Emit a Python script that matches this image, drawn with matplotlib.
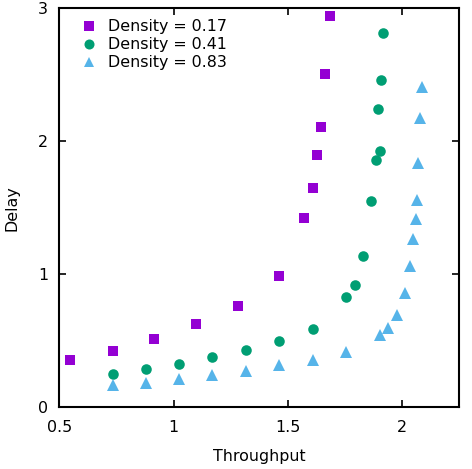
import matplotlib
matplotlib.use("Agg")
import matplotlib.pyplot as plt

plt.rcParams['font.family'] = ['DejaVu Sans']

# Density = 0.17
x17 = [0.547, 0.734, 0.916, 1.099, 1.282, 1.461, 1.572, 1.610, 1.629, 1.646, 1.664, 1.685]
y17 = [0.353, 0.423, 0.511, 0.624, 0.759, 0.985, 1.421, 1.647, 1.895, 2.105, 2.504, 2.942]
# Density = 0.41
x41 = [0.734, 0.879, 1.025, 1.169, 1.317, 1.462, 1.611, 1.754, 1.795, 1.829, 1.865, 1.887, 1.903, 1.895, 1.909, 1.917]
y41 = [0.248, 0.286, 0.323, 0.376, 0.429, 0.496, 0.586, 0.829, 0.917, 1.135, 1.549, 1.857, 1.925, 2.243, 2.459, 2.812]
# Density = 0.83
x83 = [0.734, 0.879, 1.025, 1.169, 1.317, 1.462, 1.611, 1.754, 1.903, 1.939, 1.976, 2.014, 2.034, 2.049, 2.059, 2.065, 2.070, 2.078, 2.088]
y83 = [0.168, 0.185, 0.213, 0.243, 0.273, 0.316, 0.356, 0.414, 0.544, 0.594, 0.692, 0.859, 1.062, 1.265, 1.416, 1.559, 1.832, 2.170, 2.403]

labels = ['Density = 0.17', 'Density = 0.41', 'Density = 0.83']
xticks = [0.5, 1, 1.5, 2]
xticklabels = ['0.5', '1', '1.5', '2']
yticks = [0, 1, 2, 3]
yticklabels = ['0', '1', '2', '3']

FS = 11.4

fig = plt.figure(figsize=(4.72, 4.69), dpi=100)
ax = fig.add_axes([0.1256, 0.1316, 0.9718 - 0.1256, 0.983 - 0.1316])

ax.plot(x17, y17, linestyle='none', marker='s', markersize=7.2, color='#9400D3',
        markeredgewidth=0, label=labels[0])
ax.plot(x41, y41, linestyle='none', marker='o', markersize=7.6, color='#009E73',
        markeredgewidth=0, label=labels[1])
ax.plot(x83, y83, linestyle='none', marker='^', markersize=8.2, color='#56B4E9',
        markeredgewidth=0, label=labels[2])

ax.set_xlim(0.5, 2.247)
ax.set_ylim(0, 3)
ax.set_xticks(xticks)
ax.set_xticklabels(xticklabels)
ax.set_yticks(yticks)
ax.set_yticklabels(yticklabels)
ax.tick_params(direction='in', length=5, width=1.2, top=True, right=True,
               labelsize=FS, colors='black')
ax.tick_params(axis='x', pad=9)
ax.tick_params(axis='y', pad=8)
for s in ax.spines.values():
    s.set_linewidth(1.5)

ax.set_xlabel('Throughput', fontsize=FS, labelpad=10)
ax.set_ylabel('Delay', fontsize=FS, labelpad=13)

leg = ax.legend(loc='upper left', frameon=False, fontsize=FS, handletextpad=0.55,
                labelspacing=0.2, borderaxespad=0.3, handlelength=1.3,
                markerscale=0.95, bbox_to_anchor=(0.02, 1.0))

fig.savefig('out.png', dpi=100)
